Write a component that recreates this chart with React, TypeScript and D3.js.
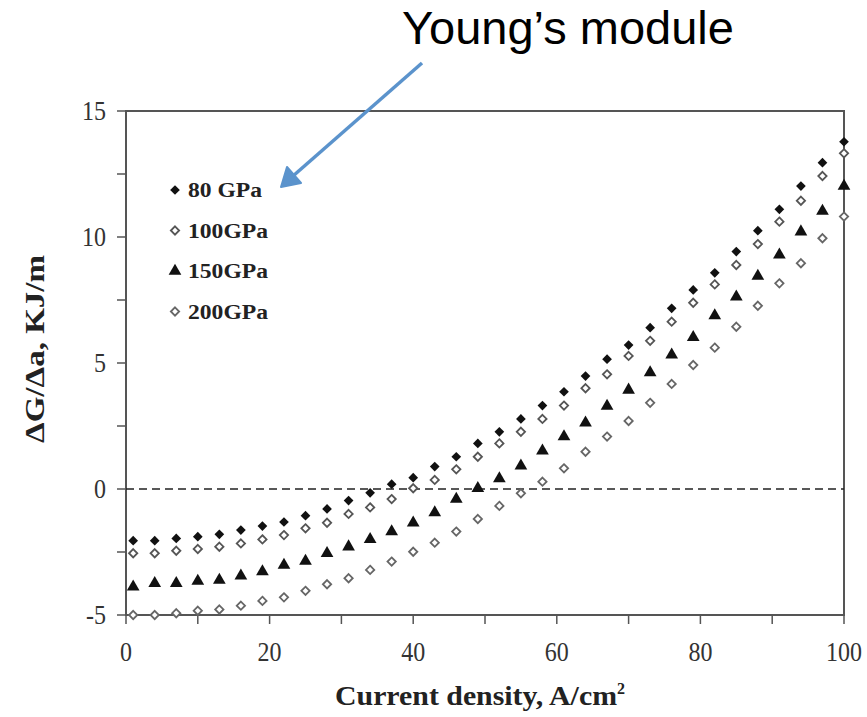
import * as d3 from "d3";
import React, { useEffect, useRef } from "react";

const currentDensity = [1, 4, 7, 10, 13, 16, 19, 22, 25, 28, 31, 34, 37, 40, 43, 46, 49, 52, 55, 58, 61, 64, 67, 70, 73, 76, 79, 82, 85, 88, 91, 94, 97, 100];

const gpa80 = [-2.05, -2.05, -1.96, -1.89, -1.8, -1.63, -1.47, -1.31, -1.06, -0.79, -0.46, -0.15, 0.19, 0.45, 0.89, 1.28, 1.81, 2.27, 2.78, 3.31, 3.86, 4.48, 5.15, 5.71, 6.4, 7.17, 7.9, 8.58, 9.42, 10.25, 11.1, 12.02, 12.95, 13.78];
const gpa100 = [-2.55, -2.55, -2.45, -2.38, -2.29, -2.16, -2.0, -1.83, -1.56, -1.34, -0.99, -0.73, -0.4, 0.03, 0.36, 0.78, 1.28, 1.81, 2.27, 2.78, 3.31, 4.0, 4.55, 5.28, 5.88, 6.64, 7.39, 8.12, 8.89, 9.72, 10.61, 11.44, 12.42, 13.32];
const gpa150 = [-3.88, -3.74, -3.74, -3.65, -3.61, -3.45, -3.28, -3.02, -2.86, -2.55, -2.29, -2.0, -1.69, -1.34, -0.94, -0.4, 0.03, 0.41, 0.92, 1.51, 2.08, 2.63, 3.29, 3.93, 4.62, 5.32, 6.02, 6.88, 7.63, 8.45, 9.29, 10.21, 11.03, 12.02];
const gpa200 = [-5.0, -5.0, -4.93, -4.83, -4.78, -4.63, -4.44, -4.3, -4.04, -3.78, -3.54, -3.21, -2.88, -2.49, -2.13, -1.69, -1.19, -0.67, -0.17, 0.29, 0.82, 1.48, 2.08, 2.7, 3.42, 4.17, 4.92, 5.61, 6.44, 7.27, 8.16, 8.96, 9.95, 10.81];

const seriesNames = ["80 GPa", "100GPa", "150GPa", "200GPa"];
const xTicks = [0, 20, 40, 60, 80, 100];
const yTicks = [-5, 0, 5, 10, 15];

const W = 867;
const H = 717;

export default function App() {
  const ref = useRef<SVGSVGElement>(null);

  useEffect(() => {
    const svg = d3.select(ref.current);
    svg.selectAll("*").remove();

    const x = d3.scaleLinear().domain([0, 100]).range([126, 844]);
    const y = d3.scaleLinear().domain([-5, 15]).range([615, 111]);
    const serif = "'Liberation Serif', 'Times New Roman', serif";
    const frameColor = "#555555";

    svg.append("rect").attr("width", W).attr("height", H).attr("fill", "#fff");

    // ticks (outward)
    const ticks = svg.append("g");
    d3.range(0, 101, 10).forEach((d) => {
      ticks
        .append("line")
        .attr("x1", x(d))
        .attr("x2", x(d))
        .attr("y1", y(-5))
        .attr("y2", y(-5) + 9)
        .style("stroke", frameColor)
        .style("stroke-width", "1.5px");
    });
    d3.range(-5, 15.1, 2.5).forEach((d) => {
      ticks
        .append("line")
        .attr("x1", x(0) - 9)
        .attr("x2", x(0))
        .attr("y1", y(d))
        .attr("y2", y(d))
        .style("stroke", frameColor)
        .style("stroke-width", "1.5px");
    });

    // frame
    svg
      .append("path")
      .attr("d", `M${x(0)},${y(15)}H${x(100)}V${y(-5)}H${x(0)}Z`)
      .style("fill", "none")
      .style("stroke", frameColor)
      .style("stroke-width", "2px");

    // tick labels
    svg
      .append("g")
      .selectAll("text")
      .data(xTicks)
      .enter()
      .append("text")
      .attr("x", (d) => x(d))
      .attr("y", y(-5) + 46)
      .attr("text-anchor", "middle")
      .attr("textLength", (d) => String(d).length * 12)
      .attr("lengthAdjust", "spacingAndGlyphs")
      .style("font-family", serif)
      .style("font-size", "27px")
      .attr("fill", "#333")
      .text((d) => d);
    svg
      .append("g")
      .selectAll("text")
      .data(yTicks)
      .enter()
      .append("text")
      .attr("x", x(0) - 20)
      .attr("y", (d) => y(d) + 9)
      .attr("text-anchor", "end")
      .attr("textLength", (d) => (d < 0 ? 20 : String(d).length * 12))
      .attr("lengthAdjust", "spacingAndGlyphs")
      .style("font-family", serif)
      .style("font-size", "27px")
      .attr("fill", "#333")
      .text((d) => d);

    // zero line
    svg
      .append("line")
      .attr("x1", x(0))
      .attr("x2", x(100))
      .attr("y1", y(0))
      .attr("y2", y(0))
      .attr("stroke", "#222")
      .attr("stroke-width", 1.5)
      .attr("stroke-dasharray", "8,5");

    // axis titles
    const xt = svg
      .append("text")
      .attr("x", 335)
      .attr("y", 705)
      .style("font-family", serif)
      .style("font-size", "27px")
      .style("font-weight", "bold")
      .attr("fill", "#222");
    xt.append("tspan").attr("textLength", 282).attr("lengthAdjust", "spacingAndGlyphs").text("Current density, A/cm");
    xt.append("tspan").attr("dy", -11).style("font-size", "16px").text("2");

    svg
      .append("text")
      .attr("transform", "translate(44, 349) rotate(-90)")
      .attr("text-anchor", "middle")
      .attr("textLength", 188)
      .attr("lengthAdjust", "spacingAndGlyphs")
      .style("font-family", serif)
      .style("font-size", "28px")
      .style("font-weight", "bold")
      .attr("fill", "#222")
      .text("ΔG/Δa, KJ/m");

    // markers
    const filledDiamond = d3.symbol().type(d3.symbolDiamond2).size(60);
    const openDiamond = d3.symbol().type(d3.symbolDiamond2).size(44);
    const triangle = d3.symbol().type(d3.symbolTriangle).size(70);
    const styles = [
      { path: filledDiamond(), fill: "#111", stroke: "none" },
      { path: openDiamond(), fill: "#fff", stroke: "#555" },
      { path: triangle(), fill: "#111", stroke: "none" },
      { path: openDiamond(), fill: "#fff", stroke: "#666" },
    ];
    const allSeries = [gpa80, gpa100, gpa150, gpa200];

    allSeries.forEach((vals, i) => {
      const st = styles[i];
      svg
        .append("g")
        .selectAll("path")
        .data(vals)
        .enter()
        .append("path")
        .attr("d", st.path)
        .attr("transform", (d, j) => `translate(${x(currentDensity[j])}, ${y(d)})`)
        .attr("fill", st.fill)
        .attr("stroke", st.stroke)
        .attr("stroke-width", 1.8);
    });

    // legend
    const leg = svg.append("g");
    seriesNames.forEach((name, i) => {
      const st = styles[i];
      const ly = 190 + i * 40.5;
      leg
        .append("path")
        .attr("d", st.path)
        .attr("transform", `translate(175, ${ly})`)
        .attr("fill", st.fill)
        .attr("stroke", st.stroke)
        .attr("stroke-width", 1.8);
      leg
        .append("text")
        .attr("x", 188)
        .attr("y", ly + 7)
        .attr("textLength", i === 0 ? 74 : 80)
        .attr("lengthAdjust", "spacingAndGlyphs")
        .style("font-family", serif)
        .style("font-size", "20px")
        .style("font-weight", "bold")
        .attr("fill", "#222")
        .text(name);
    });

    // annotation
    svg
      .append("text")
      .attr("x", 402)
      .attr("y", 44)
      .style("font-family", "'Liberation Sans', Arial, sans-serif")
      .style("font-size", "47px")
      .attr("fill", "#000")
      .text("Young’s module");

    const blue = "#5b93cc";
    svg
      .append("line")
      .attr("x1", 422)
      .attr("y1", 63)
      .attr("x2", 293)
      .attr("y2", 176)
      .attr("stroke", blue)
      .attr("stroke-width", 3.5);
    svg
      .append("path")
      .attr("d", "M281,187 L287,167 L301,183 Z")
      .attr("fill", blue)
      .attr("stroke", blue)
      .attr("stroke-width", 2)
      .attr("stroke-linejoin", "round");
  }, []);

  return (
    <svg
      ref={ref}
      width={W}
      height={H}
      style={{ position: "absolute", left: 0, top: 0 }}
    ></svg>
  );
}
